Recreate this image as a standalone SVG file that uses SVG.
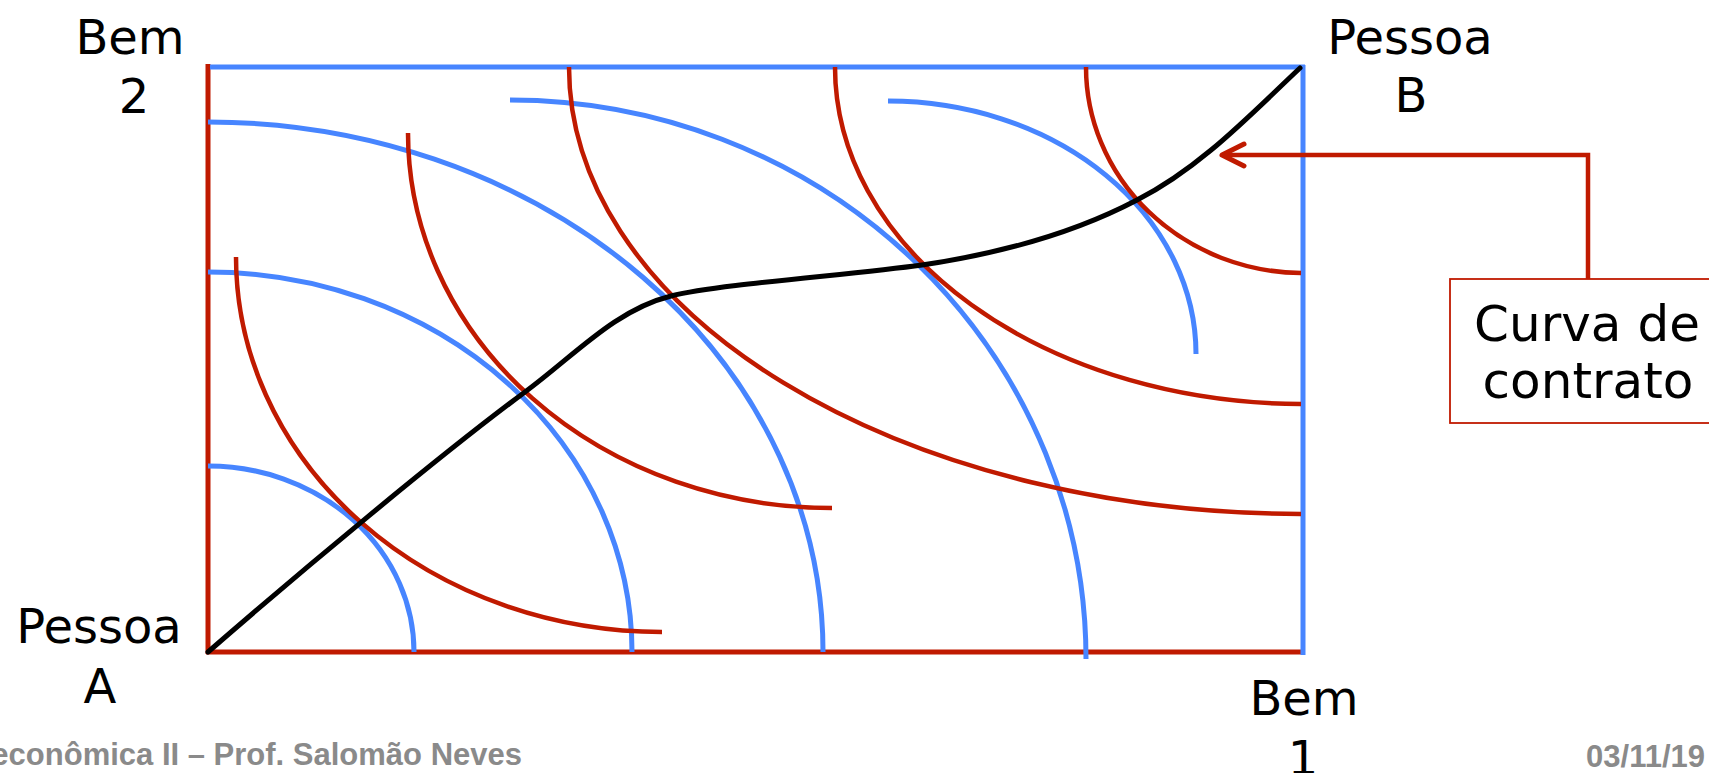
<svg xmlns="http://www.w3.org/2000/svg" width="1709" height="773" viewBox="0 0 1709 773">
<style>
.lbl{font-family:"DejaVu Sans",sans-serif;font-size:48px;fill:#000;text-anchor:middle}
.box{font-family:"DejaVu Sans",sans-serif;font-size:50px;fill:#000;text-anchor:middle}
.foot{font-family:"Liberation Sans",Arial,sans-serif;font-size:31px;font-weight:bold;fill:#8a8a8a}
.red{fill:none;stroke:#c01a00;stroke-width:4.5}
.blue{fill:none;stroke:#4785ff;stroke-width:5}
.ax{stroke-width:5}
.cc{fill:none;stroke:#000;stroke-width:5;stroke-linecap:round}
</style>
<defs>
<marker id="chev" markerUnits="userSpaceOnUse" viewBox="-28 -16 32 32" refX="0" refY="0" markerWidth="32" markerHeight="32" orient="auto">
<path d="M-22,-11 L0,0 L-22,11" fill="none" stroke="#c01a00" stroke-width="5" stroke-linecap="round" stroke-linejoin="round"/>
</marker>
</defs>
<rect width="1709" height="773" fill="#fff"/>
<g id="axes">
<line class="red ax" x1="208" y1="64" x2="208" y2="654"/>
<line class="red ax" x1="206" y1="652" x2="1303" y2="652"/>
<line class="blue ax" x1="210" y1="67" x2="1305" y2="67"/>
<line class="blue ax" x1="1303" y1="65" x2="1303" y2="655"/>
</g>
<g id="indiff-A">
<path class="blue" d="M208,466 A206,186 0 0 1 414,652"/>
<path class="blue" d="M208,272 A424,380 0 0 1 632,652"/>
<path class="blue" d="M208,122 A615,530 0 0 1 823,652"/>
<path class="blue" d="M510,100 A576,559 0 0 1 1086,659"/>
<path class="blue" d="M888,101 A308,253 0 0 1 1196,354"/>
</g>
<g id="indiff-B">
<path class="red" d="M236,257 A426,375 0 0 0 662,632"/>
<path class="red" d="M408,133 A424,375 0 0 0 832,508"/>
<path class="red" d="M569,67 A734,447 0 0 0 1301,514"/>
<path class="red" d="M835,67 A468,337 0 0 0 1301,404"/>
<path class="red" d="M1086,67 A217,206 0 0 0 1301,273"/>
</g>
<g id="contract-curve">
<path class="cc" d="M208,652 C300,572 440,455 525,392 C575,355 615,310 671,296 C720,284 850,275 922,265 C1010,252 1080,230 1137,200 C1200,168 1250,115 1300,68"/>
</g>
<g id="connectors">
<path d="M1588,279 V155 H1222" fill="none" stroke="#c01a00" stroke-width="4.5" marker-end="url(#chev)"/>
</g>
<g id="label-box">
<rect x="1450" y="279" width="300" height="144" fill="#fff" stroke="#c01a00" stroke-width="1.8"/>
<text class="box" x="1587" y="341">Curva de</text>
<text class="box" x="1588" y="398">contrato</text>
</g>
<g id="labels">
<text class="lbl" x="130" y="54">Bem</text>
<text class="lbl" x="134" y="113">2</text>
<text class="lbl" x="1410" y="54">Pessoa</text>
<text class="lbl" x="1411" y="112">B</text>
<text class="lbl" x="99" y="643">Pessoa</text>
<text class="lbl" x="100" y="703">A</text>
<text class="lbl" x="1304" y="715">Bem</text>
<text class="lbl" x="1303" y="775">1</text>
</g>
<g id="footer">
<text class="foot" x="522" y="765" text-anchor="end">econômica II – Prof. Salomão Neves</text>
<text class="foot" x="1705" y="767" text-anchor="end">03/11/19</text>
</g>
</svg>
